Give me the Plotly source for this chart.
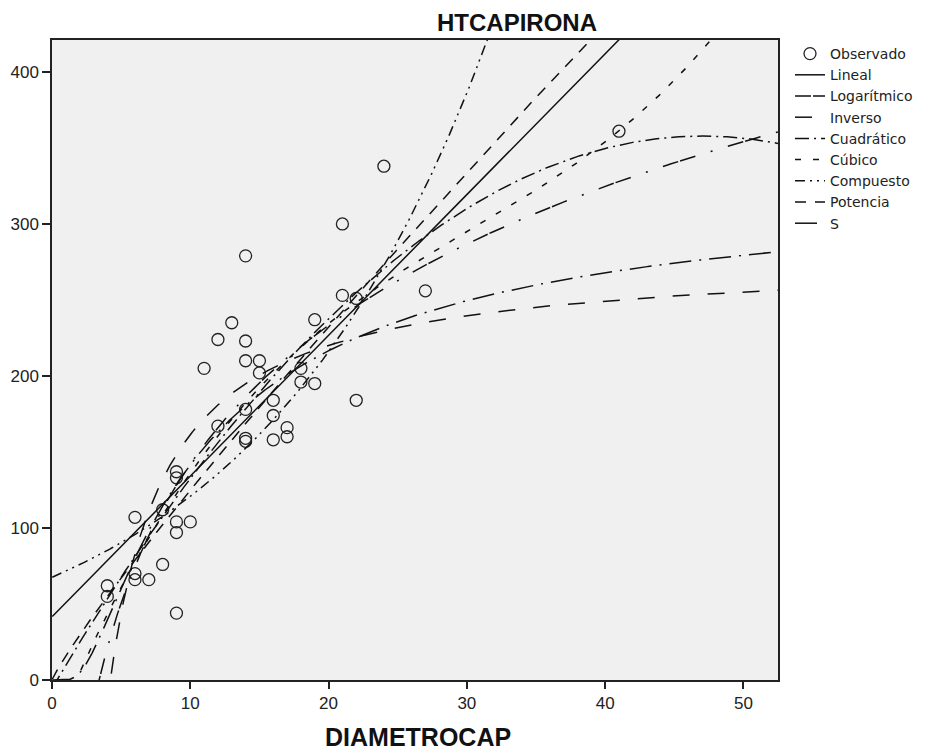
import numpy as np
import plotly.graph_objects as go

diametro = [4, 4, 6, 6, 6, 7, 8, 8, 9, 9, 9, 9, 9, 10, 11, 12, 12, 13,
            14, 14, 14, 14, 14, 14, 15, 15, 16, 16, 16, 17, 17, 18, 18,
            19, 19, 21, 21, 22, 22, 24, 27, 41]
altura = [62, 55, 107, 70, 66, 66, 76, 112, 137, 133, 104, 97, 44, 104, 205,
          224, 167, 235, 279, 223, 210, 178, 159, 157, 210, 202, 184, 174,
          158, 166, 160, 205, 196, 237, 195, 300, 253, 251, 184, 338, 256, 361]

model_names = ["Lineal", "Logarítmico", "Inverso", "Cuadrático", "Cúbico",
               "Compuesto", "Potencia", "S"]
x_ticks = [0, 10, 20, 30, 40, 50]
y_ticks = [0, 100, 200, 300, 400]

x = np.array(diametro, dtype=float)
y = np.array(altura, dtype=float)
xg = np.linspace(0.02, 52.5, 1500)

# Curve estimation fits (as SPSS does)
def fits():
    out = {}
    b = np.polyfit(x, y, 1); out["Lineal"] = np.polyval(b, xg)
    b = np.polyfit(np.log(x), y, 1); out["Logarítmico"] = np.polyval(b, np.log(xg))
    b = np.polyfit(1 / x, y, 1); out["Inverso"] = np.polyval(b, 1 / xg)
    b = np.polyfit(x, y, 2); out["Cuadrático"] = np.polyval(b, xg)
    b = np.polyfit(x, y, 3); out["Cúbico"] = np.polyval(b, xg)
    b = np.polyfit(x, np.log(y), 1); out["Compuesto"] = np.exp(np.polyval(b, xg))
    b = np.polyfit(np.log(x), np.log(y), 1); out["Potencia"] = np.exp(np.polyval(b, np.log(xg)))
    b = np.polyfit(1 / x, np.log(y), 1); out["S"] = np.exp(np.polyval(b, 1 / xg))
    return out

curves = fits()
dashes = {
    "Lineal": "solid",
    "Logarítmico": "16px,2px,16px,16px,2px,16px",
    "Inverso": "17px,18px",
    "Cuadrático": "14px,5px,2px,5px",
    "Cúbico": "6px,12px",
    "Compuesto": "10px,5px,2px,5px,2px,5px",
    "Potencia": "11px,9px",
    "S": "22px,8px,2px,8px",
}

# figure is drawn inside the page body (8px default margin)
W, H = 919, 743
L, R, T, B = 44, 149, 32, 71
PW, PH = W - L - R, H - T - B

fig = go.Figure()
fig.add_trace(go.Scatter(
    x=diametro, y=altura, mode="markers", name="Observado",
    marker=dict(symbol="circle-open", size=12, color="#222",
                line=dict(width=1.3, color="#222")),
    legendgroup="g0"))
for i, name in enumerate(model_names):
    yy = np.clip(curves[name], -1000, 2000)
    fig.add_trace(go.Scatter(
        x=xg, y=yy, mode="lines", name=name,
        line=dict(color="#111", width=1.5, dash=dashes[name]),
        legendgroup="g%d" % (i + 1)))

fig.update_layout(
    width=W, height=H,
    margin=dict(l=L, r=R, t=T, b=B, autoexpand=False),
    paper_bgcolor="white", plot_bgcolor="#f0f0f0",
    font=dict(family="Liberation Sans, Arial, sans-serif", size=17, color="#222"),
    showlegend=True,
    legend=dict(x=(782 - L) / PW, xanchor="left", y=(H - B - 30) / PH, yanchor="top",
                font=dict(family="DejaVu Sans, sans-serif", size=14, color="#222"),
                tracegroupgap=0, bgcolor="rgba(0,0,0,0)", itemwidth=30),
    annotations=[
        dict(text="<b>HTCAPIRONA</b>", xref="paper", yref="paper",
             x=(509 - L) / PW, y=(H - B - 14.5) / PH, xanchor="center", yanchor="middle",
             showarrow=False, font=dict(size=24, color="#111")),
        dict(text="<b>DIAMETROCAP</b>", xref="paper", yref="paper",
             x=(410 - L) / PW, y=(H - B - 729) / PH, xanchor="center", yanchor="middle",
             showarrow=False, font=dict(size=25, color="#111")),
    ],
)
fig.update_xaxes(range=[0, 52.5], tickvals=x_ticks, ticks="outside", ticklen=7,
                 tickwidth=1.5, tickcolor="#222", showgrid=False, zeroline=False,
                 showline=True, linecolor="#222", linewidth=1.5, mirror=True,
                 automargin=False)
fig.update_yaxes(range=[0, 421], tickvals=y_ticks, ticks="outside", ticklen=8,
                 tickwidth=1.5, tickcolor="#222", showgrid=False, zeroline=False,
                 showline=True, linecolor="#222", linewidth=1.5, mirror=True,
                 automargin=False)

fig.write_html("out.html")
